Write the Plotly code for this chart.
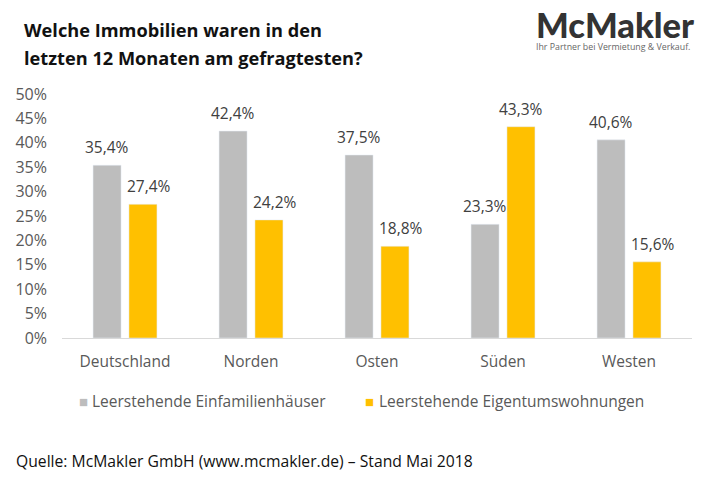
import plotly.graph_objects as go

regionen = ['Deutschland', 'Norden', 'Osten', 'Süden', 'Westen']
einfamilien = [35.4, 42.4, 37.5, 23.3, 40.6]
wohnungen = [27.4, 24.2, 18.8, 43.3, 15.6]
einfamilien_labels = ['35,4%', '42,4%', '37,5%', '23,3%', '40,6%']
wohnungen_labels = ['27,4%', '24,2%', '18,8%', '43,3%', '15,6%']
y_ticks = [0, 5, 10, 15, 20, 25, 30, 35, 40, 45, 50]
y_labels = ['0%', '5%', '10%', '15%', '20%', '25%', '30%', '35%', '40%', '45%', '50%']
legend_namen = ['Leerstehende Einfamilienhäuser', 'Leerstehende Eigentumswohnungen']

FONT = 'Open Sans'
GRAU = '#bdbdbd'
GELB = '#ffc000'

L, R, T, B = 62, 18, 94, 143
W, H = 710, 481

# page pixels to paper coordinates, for the texts outside the plot area
def px_x(x):
    return (x - L) / (W - L - R)

def px_y(y):
    return 1 - (y - T) / (H - T - B)

def text_at(x, y, text, size, color, anchor='left', family=FONT, weight=None):
    fig.add_annotation(xref='paper', yref='paper', x=px_x(x), y=px_y(y), xanchor=anchor, yanchor='middle',
                       text=text, showarrow=False, borderpad=0,
                       font=dict(family=family, size=size, color=color, weight=weight))

fig = go.Figure()
fig.add_trace(go.Bar(x=regionen, y=einfamilien, name=legend_namen[0], marker_color=GRAU))
fig.add_trace(go.Bar(x=regionen, y=wohnungen, name=legend_namen[1], marker_color=GELB))

# value labels sit higher above the bars than textposition outside allows
for i in range(len(regionen)):
    fig.add_annotation(x=regionen[i], y=einfamilien[i], text=einfamilien_labels[i], xshift=-18, yshift=5,
                       yanchor='bottom', showarrow=False, font=dict(family=FONT, size=15.5, color='#404040'))
    # the yellow label moves right only where the grey bar is the taller one
    fig.add_annotation(x=regionen[i], y=wohnungen[i], text=wohnungen_labels[i],
                       xshift=24 if einfamilien[i] > wohnungen[i] else 18, yshift=5,
                       yanchor='bottom', showarrow=False, font=dict(family=FONT, size=15.5, color='#404040'))

text_at(23, 30, '<b>Welche Immobilien waren in den</b>', 18.2, '#111111')
text_at(23, 58, '<b>letzten 12 Monaten am gefragtesten?</b>', 18.2, '#111111')
text_at(535, 24, 'McMakler', 34.5, '#333333', family='Lato', weight=900)
text_at(535, 47, 'Ihr Partner bei Vermietung &amp; Verkauf.', 8.8, '#666666')
text_at(15, 461, 'Quelle: McMakler GmbH (www.mcmakler.de) – Stand Mai 2018', 15.7, '#111111')

# legend swatches sit much closer to their text than the built-in legend can
text_at(78, 401, f'<span style="color:{GRAU}">■</span>', 15, GRAU)
text_at(91, 401, legend_namen[0], 15.5, '#595959')
text_at(364, 401, f'<span style="color:{GELB}">■</span>', 15, GELB)
text_at(378, 401, legend_namen[1], 15.5, '#595959')

fig.update_layout(
    width=W, height=H,
    margin=dict(l=L, r=R, t=T, b=B, autoexpand=False),
    paper_bgcolor='white', plot_bgcolor='white',
    barmode='group', bargap=0.43, bargroupgap=0.22,
    font=dict(family=FONT, size=16, color='#595959'),
    showlegend=False,
)
fig.update_xaxes(showgrid=False, showline=True, linecolor='#d9d9d9', linewidth=1, ticks='', ticklabelstandoff=9,
                 tickfont=dict(family=FONT, size=15.5, color='#595959'))
fig.update_yaxes(range=[0, 50], tickvals=y_ticks, ticktext=y_labels, showgrid=False, zeroline=False,
                 ticks='', ticklabelstandoff=14, tickfont=dict(family=FONT, size=16, color='#595959'))

fig.write_html("out.html", config=dict(displayModeBar=False), post_script="document.body.style.margin = '0';")
